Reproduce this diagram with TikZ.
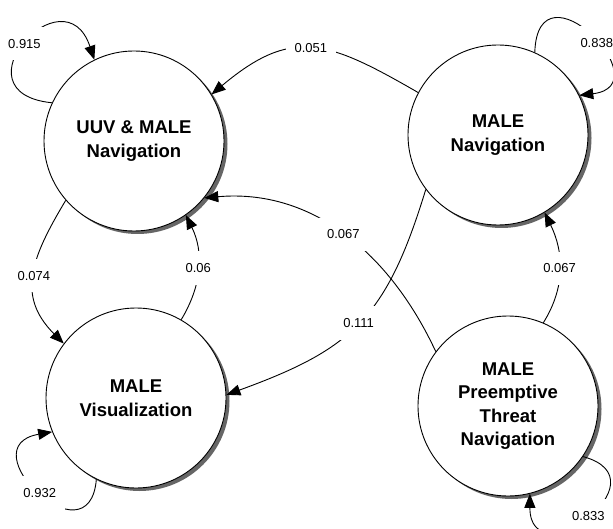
\documentclass[tikz,border=0pt]{standalone}
\usepackage{fontspec}
\setmainfont{Liberation Sans}
\usetikzlibrary{arrows.meta,shadows}
\begin{document}
\begin{tikzpicture}[x=1pt,y=1pt,
  state/.style={circle, draw=black, line width=0.9pt, fill=white, minimum size=180pt,
    inner sep=0pt, align=center, font=\fontsize{18.5}{23.5}\selectfont\bfseries,
    drop shadow={shadow xshift=3.5pt, shadow yshift=-3pt, fill=black!60, opacity=1}},
  trans/.style={line width=0.9pt, -{Triangle[length=14pt,width=11pt]}},
  lab/.style={fill=white, inner xsep=9pt, inner ysep=12pt, font=\fontsize{13}{15}\selectfont}
]
\useasboundingbox (0,0) rectangle (613,-529);
\node[state] (c1) at (134,-141) {UUV \& MALE\\Navigation};
\node[state] (c2) at (498,-135) {MALE\\Navigation};
\node[state] (c3) at (136,-398) {MALE\\Visualization};
\node[state] (c4) at (508,-406) {MALE\\Preemptive\\Threat\\Navigation};

\draw[trans] (c2.152) to[out=150,in=40,looseness=1.3] node[lab]{0.051} (c1.31);
\draw[trans] (c4.143) to[out=115,in=5] node[lab]{0.067} (c1.-39);
\draw[trans] (c2.217) to[out=253,in=20,looseness=1.2] node[lab]{0.111} (c3.2);
\draw[trans] (c4.67) to[out=58,in=-64] node[lab]{0.067} (c2.-59);
\draw[trans] (c3.60) to[out=59,in=-64] node[lab]{0.06} (c1.-55);
\draw[trans] (c1.221) to[out=239,in=135,looseness=1.2] node[lab]{0.074} (c3.143);

\draw[trans] (c1.155) .. controls +(-100,10) and +(-30,90) .. node[lab]{0.915} (c1.116);
\draw[trans] (c2.66) .. controls +(3,95) and +(84,10) .. node[lab,pos=0.56]{0.838} (c2.26);
\draw[trans] (c3.244) .. controls +(-7,-85) and +(-85,-15) .. node[lab]{0.932} (c3.202);
\draw[trans] (c4.-34) .. controls +(85,-23) and +(0,-85) .. node[lab]{0.833} (c4.-76);
\end{tikzpicture}
\end{document}
